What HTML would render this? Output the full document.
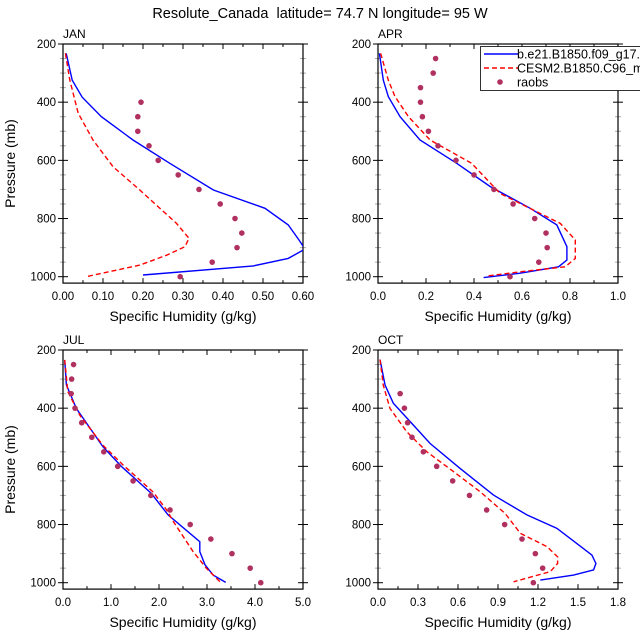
<!DOCTYPE html>
<html><head><meta charset="utf-8"><style>
html,body{margin:0;padding:0;background:#fff;}
svg{display:block;font-family:"Liberation Sans",Arial,sans-serif;}
</style></head><body>
<svg id="chart" width="640" height="639" viewBox="0 0 640 639" xmlns="http://www.w3.org/2000/svg">
<text x="320" y="18" text-anchor="middle" font-size="14.5" xml:space="preserve" style="white-space:pre">Resolute_Canada  latitude= 74.7 N longitude= 95 W</text>
</svg>
<script>
// ---- data (pressure in mb, specific humidity in g/kg) ----
const panelNames = ["JAN","APR","JUL","OCT"];
const xMaxes = [0.6, 1.0, 5.0, 1.8];
const xTickLabels = [
  ["0.00","0.10","0.20","0.30","0.40","0.50","0.60"],
  ["0.0","0.2","0.4","0.6","0.8","1.0"],
  ["0.0","1.0","2.0","3.0","4.0","5.0"],
  ["0.0","0.3","0.6","0.9","1.2","1.5","1.8"]
];
const yTickLabels = ["200","400","600","800","1000"];

const janBlueP = [232,324,383,450,530,610,702,765,822,874,905,937,963,994];
const janBlueQ = [0.008,0.023,0.048,0.096,0.175,0.267,0.376,0.505,0.563,0.59,0.605,0.563,0.476,0.2];
const janRedP = [232,324,438,530,622,702,817,868,897,926,960,1000];
const janRedQ = [0.006,0.017,0.038,0.075,0.125,0.192,0.284,0.315,0.305,0.259,0.192,0.058];
const janObsP = [400,450,500,550,600,650,700,750,800,850,900,950,1000];
const janObsQ = [0.195,0.187,0.187,0.215,0.238,0.288,0.34,0.393,0.43,0.447,0.435,0.373,0.293];

const aprBlueP = [232,324,381,450,530,610,690,765,822,897,943,966,988,1003];
const aprBlueQ = [0.006,0.022,0.043,0.092,0.175,0.328,0.467,0.634,0.745,0.787,0.787,0.752,0.592,0.44];
const aprRedP = [232,324,381,450,530,610,714,777,817,874,937,966,983,998];
const aprRedQ = [0.011,0.043,0.071,0.127,0.217,0.39,0.509,0.662,0.76,0.822,0.822,0.78,0.592,0.453];
const aprObsP = [250,300,350,400,450,500,550,600,650,700,750,800,850,900,950,1000];
const aprObsQ = [0.24,0.23,0.177,0.177,0.185,0.21,0.25,0.325,0.4,0.483,0.563,0.653,0.7,0.705,0.67,0.55];

const julBlueP = [234,320,401,532,601,693,767,859,893,939,974,999];
const julBlueQ = [0.035,0.07,0.28,0.83,1.22,1.84,2.19,2.85,2.85,2.96,3.13,3.39];
const julRedP = [234,343,424,527,595,687,750,790,893,951,997];
const julRedQ = [0.035,0.1,0.35,0.83,1.25,1.87,2.16,2.3,2.71,2.99,3.27];
const julObsP = [250,300,350,400,450,500,550,600,650,700,750,800,850,900,950,1000];
const julObsQ = [0.22,0.18,0.17,0.25,0.39,0.6,0.85,1.14,1.46,1.83,2.23,2.65,3.08,3.52,3.9,4.12];

const octBlueP = [233,321,383,458,521,607,699,767,813,865,905,934,956,974,991];
const octBlueQ = [0.015,0.053,0.115,0.265,0.39,0.616,0.866,1.117,1.342,1.49,1.604,1.634,1.617,1.467,1.217];
const octRedP = [233,321,401,481,550,618,687,762,830,876,911,934,962,997];
const octRedQ = [0.015,0.04,0.09,0.215,0.366,0.566,0.766,0.954,1.067,1.267,1.347,1.347,1.292,1.017];
const octObsP = [350,400,450,500,550,600,650,700,750,800,850,900,950,1000];
const octObsQ = [0.166,0.198,0.222,0.255,0.34,0.44,0.56,0.686,0.815,0.95,1.08,1.18,1.235,1.165];

const seriesBlueP=[janBlueP,aprBlueP,julBlueP,octBlueP], seriesBlueQ=[janBlueQ,aprBlueQ,julBlueQ,octBlueQ];
const seriesRedP=[janRedP,aprRedP,julRedP,octRedP], seriesRedQ=[janRedQ,aprRedQ,julRedQ,octRedQ];
const seriesObsP=[janObsP,aprObsP,julObsP,octObsP], seriesObsQ=[janObsQ,aprObsQ,julObsQ,octObsQ];

const NS="http://www.w3.org/2000/svg";
const svg=document.getElementById("chart");
function mk(tag,attrs,parent){const e=document.createElementNS(NS,tag);for(const k in attrs)e.setAttribute(k,attrs[k]);(parent||svg).appendChild(e);return e;}

const originsX=[63,378,63,378], originsY=[44,44,350,350];
const W=240, P0=200, PBOT=1022, pxPerMb=232.7/800;

for(let i=0;i<4;i++){
  const x0=originsX[i], y0=originsY[i], xm=xMaxes[i];
  const xs=q=>x0+q/xm*W;
  const ys=p=>y0+(p-P0)*pxPerMb;
  const yb=ys(PBOT);
  const g=mk("g",{});
  
  
  const clipId="clip"+i;
  const cp=mk("clipPath",{id:clipId},g); mk("rect",{x:x0,y:y0,width:W,height:yb-y0},cp);
  const nT=xTickLabels[i].length;
  for(let k=0;k<nT;k++){
    const v=xm*k/(nT-1), x=xs(v);
    mk("line",{x1:x,y1:yb,x2:x,y2:yb-5,stroke:"#000","stroke-width":1},g);
    mk("line",{x1:x,y1:y0,x2:x,y2:y0+5,stroke:"#000","stroke-width":1},g);
    const t=mk("text",{x:x,y:yb+17,"text-anchor":"middle","font-size":"11.5"},g);
    t.textContent=xTickLabels[i][k];
    
    
    if(k<nT-1){const xh=xs(v+xm/(nT-1)/2);
      mk("line",{x1:xh,y1:yb,x2:xh,y2:yb-3,stroke:"#000"},g);
      mk("line",{x1:xh,y1:y0,x2:xh,y2:y0+3,stroke:"#000"},g);}
  }
  for(let p=200;p<=1000;p+=50){
    const y=ys(p), major=(p%200===0), len=major?5:3;
    mk("line",{x1:x0-len,y1:y,x2:x0+len,y2:y,stroke:major?"#000":"#aaa"},g);
    mk("line",{x1:x0+W-len,y1:y,x2:x0+W+len,y2:y,stroke:major?"#000":"#aaa"},g);
  }
  yTickLabels.forEach(lb=>{
    const t=mk("text",{x:x0-7,y:ys(+lb)+4,"text-anchor":"end","font-size":"11.5"},g);
    t.textContent=lb;
    
    
  });
  const fr=mk("rect",{x:x0,y:y0,width:W,height:yb-y0,fill:"none",stroke:"#000","stroke-width":1.2},g);
  
  
  const pl=mk("text",{x:x0,y:y0-6,"font-size":"12"},g); pl.textContent=panelNames[i];
  
  
  const xl=mk("text",{x:x0+W/2,y:yb+38,"text-anchor":"middle","font-size":"14"},g); xl.textContent="Specific Humidity (g/kg)";
  
  
  if(i%2===0){
    const yl=mk("text",{x:0,y:0,"text-anchor":"middle","font-size":"14",transform:`translate(15,${(y0+yb)/2}) rotate(-90)`},g);
    yl.textContent="Pressure (mb)";
    
    
  }
  const cg=mk("g",{"clip-path":`url(#${clipId})`},g);
  const bp=seriesBlueP[i].map((p,j)=>xs(seriesBlueQ[i][j]).toFixed(1)+","+ys(p).toFixed(1)).join(" ");
  const bl=mk("polyline",{points:bp,fill:"none",stroke:"#0000ff","stroke-width":1.4},cg);
  
  
  const rp=seriesRedP[i].map((p,j)=>xs(seriesRedQ[i][j]).toFixed(1)+","+ys(p).toFixed(1)).join(" ");
  const rl=mk("polyline",{points:rp,fill:"none",stroke:"#ff0000","stroke-width":1.4,"stroke-dasharray":"5,3"},cg);
  
  
  seriesObsP[i].forEach((p,j)=>{
    const c=mk("circle",{cx:xs(seriesObsQ[i][j]),cy:ys(p),r:2.8,fill:"#b03060"},cg);
    
    
  });
}
const lg=mk("g",{});


mk("rect",{x:480.5,y:46.5,width:170,height:44,fill:"#fff",stroke:"#000","stroke-width":0.8},lg);
const legTexts=["b.e21.B1850.f09_g17.","CESM2.B1850.C96_m","raobs"];
[54,68,82].forEach((y,k)=>{
  if(k===0) mk("line",{x1:484,y1:y,x2:518,y2:y,stroke:"#0000ff","stroke-width":1.4},lg);
  if(k===1) mk("line",{x1:484,y1:y,x2:518,y2:y,stroke:"#ff0000","stroke-width":1.4,"stroke-dasharray":"5,3"},lg);
  if(k===2) mk("circle",{cx:500,cy:y,r:2.8,fill:"#b03060"},lg);
  const t=mk("text",{x:517,y:y+4.5,"font-size":"12.5"},lg); t.textContent=legTexts[k];
  
  
});
</script>
</body></html>
